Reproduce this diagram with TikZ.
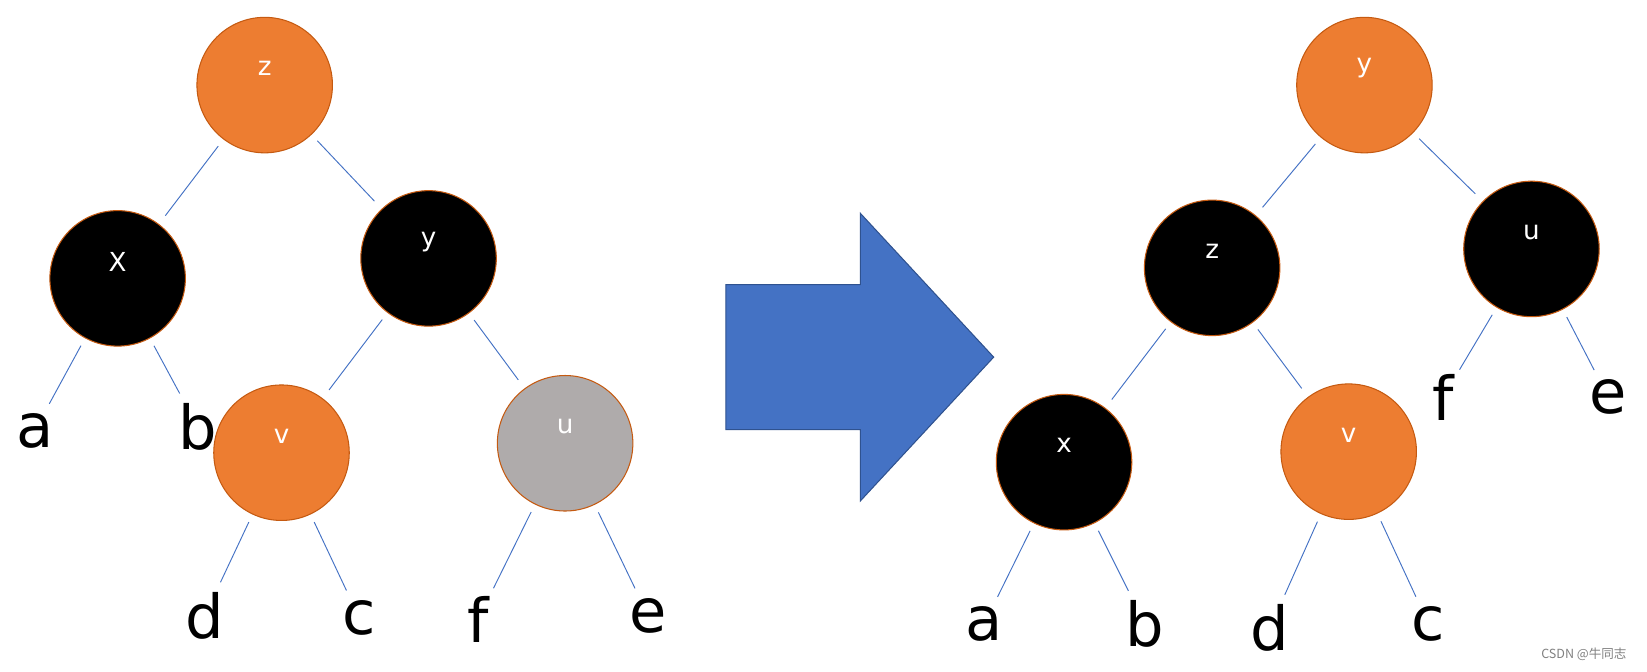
\documentclass[tikz,border=0pt]{standalone}
\usepackage{fontspec}
\setmainfont{DejaVu Sans}
\newfontfamily\cjk{Noto Sans CJK SC}
\definecolor{org}{HTML}{ED7D31}
\definecolor{bord}{HTML}{C55A11}
\definecolor{gry}{HTML}{AFABAB}
\definecolor{ln}{HTML}{4472C4}
\definecolor{arb}{HTML}{2F528F}
\begin{document}
\begin{tikzpicture}[x=1bp,y=-1bp,
 nd/.style={circle,draw=bord,line width=1bp,minimum size=129bp,inner sep=0},
 o/.style={nd,fill=org}, b/.style={nd,fill=black}, g/.style={nd,fill=gry},
 intx/.style={text=white,font=\fontsize{25}{25}\selectfont,yshift=16bp},
 lf/.style={font=\fontsize{58}{58}\selectfont,inner sep=0},
 e/.style={draw=ln,line width=0.9bp,shorten <=8bp,shorten >=10bp}]
\useasboundingbox (0,0) rectangle (1568,639);
% left tree
\node[o,label={[intx]center:z}] (z1) at (252,81) {};
\node[b,label={[intx]center:X}] (x1) at (112,265) {};
\node[b,label={[intx]center:y}] (y1) at (408,246) {};
\node[o,label={[intx]center:v}] (v1) at (268,431) {};
\node[g,label={[intx]center:u}] (u1) at (538,422) {};
\node[lf] (a1) at (33,410) {a};
\node[lf] (b1) at (188,406) {b};
\node[lf] (d1) at (195,586) {d};
\node[lf] (c1) at (342,588) {c};
\node[lf] (f1) at (455,590) {f};
\node[lf] (e1) at (617,586) {e};
\draw[e] (z1)--(x1); \draw[e] (z1)--(y1);
\draw[e] (y1)--(v1); \draw[e] (y1)--(u1);
\draw[e] (x1)--(a1); \draw[e] (x1)--(b1);
\draw[e] (v1)--(d1); \draw[e] (v1)--(c1);
\draw[e] (u1)--(f1); \draw[e] (u1)--(e1);
% arrow
\draw[fill=ln,draw=arb,line width=1bp] (691,271)--(819,271)--(819,203)--(946,340)--(819,477)--(819,409)--(691,409)--cycle;
% right tree
\node[o,label={[intx]center:y}] (y2) at (1299,81) {};
\node[b,label={[intx]center:z}] (z2) at (1154,255) {};
\node[b,label={[intx]center:u}] (u2) at (1458,237) {};
\node[b,label={[intx]center:x}] (x2) at (1013,440) {};
\node[o,label={[intx]center:v}] (v2) at (1284,430) {};
\node[lf] (a2) at (937,594) {a};
\node[lf] (b2) at (1090,594) {b};
\node[lf] (d2) at (1209,598) {d};
\node[lf] (c2) at (1360,594) {c};
\node[lf] (f2) at (1374,378) {f};
\node[lf] (e2) at (1531,378) {e};
\draw[e] (y2)--(z2); \draw[e] (y2)--(u2);
\draw[e] (z2)--(x2); \draw[e] (z2)--(v2);
\draw[e] (x2)--(a2); \draw[e] (x2)--(b2);
\draw[e] (v2)--(d2); \draw[e] (v2)--(c2);
\draw[e] (u2)--(f2); \draw[e] (u2)--(e2);
\node[text=gray,font=\fontsize{12}{12}\selectfont\cjk,anchor=east] (wm) at (1552,623) {CSDN @牛同志};
\end{tikzpicture}
\end{document}
